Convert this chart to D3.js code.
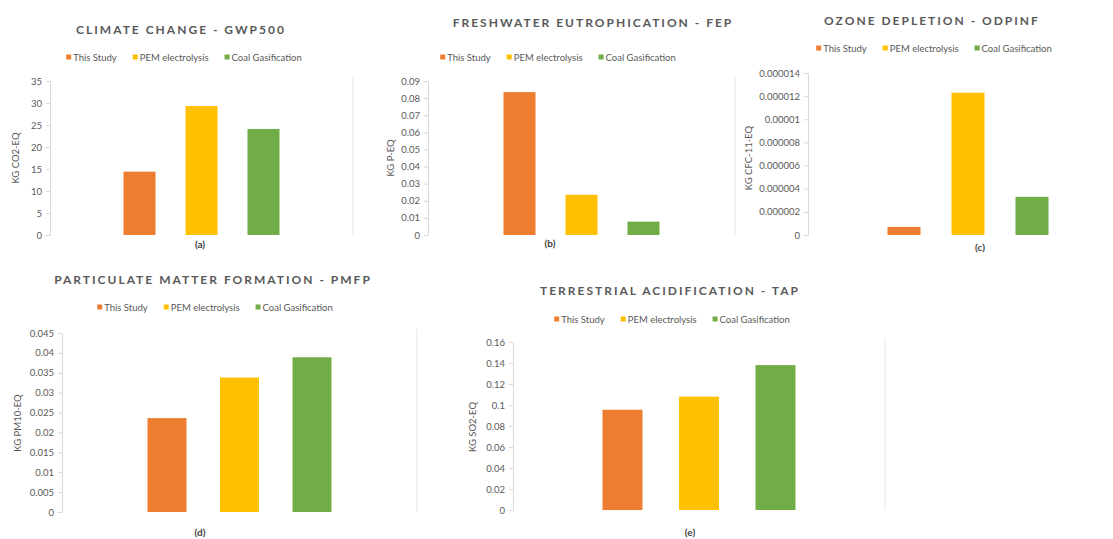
<!DOCTYPE html>
<html>
<head>
<meta charset="utf-8">
<script src="https://cdn.jsdelivr.net/npm/d3@7"></script>
<style>
  body { margin: 0; background: #fff; }
  svg { display: block; font-family: Lato, "Open Sans", sans-serif; }
</style>
</head>
<body>
<div id="chart"></div>
<script>
"use strict";

// series shared by all five panels
let seriesNames = ["This Study", "PEM electrolysis", "Coal Gasification"];
let seriesColors = ["#ED7D31", "#FFC000", "#70AD47"];

let titles = [
  "CLIMATE CHANGE - GWP500",
  "FRESHWATER EUTROPHICATION - FEP",
  "OZONE DEPLETION - ODPINF",
  "PARTICULATE MATTER FORMATION - PMFP",
  "TERRESTRIAL ACIDIFICATION - TAP"
];
let units = ["KG CO2-EQ", "KG P-EQ", "KG CFC-11-EQ", "KG PM10-EQ", "KG SO2-EQ"];
let captions = ["(a)", "(b)", "(c)", "(d)", "(e)"];

// values
let gwpValues = [14.4, 29.3, 24.1];
let fepValues = [0.0835, 0.0235, 0.0078];
let odpValues = [0.0000007, 0.0000123, 0.0000033];
let pmfpValues = [0.0236, 0.0338, 0.0389];
let tapValues = [0.0955, 0.108, 0.138];

let gwpTicks = [0, 5, 10, 15, 20, 25, 30, 35];
let fepTicks = [0, 0.01, 0.02, 0.03, 0.04, 0.05, 0.06, 0.07, 0.08, 0.09];
let odpTicks = [0, 0.000002, 0.000004, 0.000006, 0.000008, 0.00001, 0.000012, 0.000014];
let pmfpTicks = [0, 0.005, 0.01, 0.015, 0.02, 0.025, 0.03, 0.035, 0.04, 0.045];
let tapTicks = [0, 0.02, 0.04, 0.06, 0.08, 0.1, 0.12, 0.14, 0.16];

let panelValues = [gwpValues, fepValues, odpValues, pmfpValues, tapValues];
let panelTicks = [gwpTicks, fepTicks, odpTicks, pmfpTicks, tapTicks];

// layout of each panel (pixels)
let layout = [
  { axisX: 50,  y0: 235, y1: 81,  cx: 201.5, step: 62,   barW: 32, rightX: 353,
    titleX: 181, titleY: 29, legendX: 184, legendY: 57, capX: 200, capY: 244, unitX: 15, unitY: 158 },
  { axisX: 428, y0: 235, y1: 81,  cx: 581.5, step: 62,   barW: 32, rightX: 735,
    titleX: 593, titleY: 22, legendX: 558, legendY: 57, capX: 550, capY: 243, unitX: 390, unitY: 158 },
  { axisX: 808, y0: 235, y1: 73,  cx: 968,   step: 64,   barW: 33, rightX: null,
    titleX: 932, titleY: 20, legendX: 934, legendY: 48, capX: 980, capY: 247, unitX: 748, unitY: 158 },
  { axisX: 62,  y0: 512, y1: 333, cx: 239.5, step: 72.5, barW: 39, rightX: 417,
    titleX: 213, titleY: 279, legendX: 215, legendY: 307, capX: 200, capY: 532, unitX: 17, unitY: 423 },
  { axisX: 513, y0: 510, y1: 342, cx: 699,   step: 76.5, barW: 40, rightX: 885,
    titleX: 670, titleY: 290, legendX: 672, legendY: 319, capX: 690, capY: 532, unitX: 472, unitY: 427 }
];

let width = 1113, height = 539;
let textColor = "#595959";
let lineColor = "#d9d9d9";

let svg = d3.select("#chart").append("svg")
  .attr("width", width)
  .attr("height", height);

let fmt = function(v) { return String(+v.toFixed(7)); };

layout.forEach(function(L, p) {
  let ticks = panelTicks[p];
  let values = panelValues[p];
  let g = svg.append("g");

  let yScale = d3.scaleLinear()
    .domain([0, ticks[ticks.length - 1]])
    .range([L.y0, L.y1]);

  let xScale = d3.scaleBand()
    .domain(seriesNames)
    .range([L.cx - 1.5 * L.step, L.cx + 1.5 * L.step])
    .paddingInner(1 - L.barW / L.step)
    .paddingOuter((1 - L.barW / L.step) / 2);

  // title
  g.append("text")
    .attr("x", L.titleX).attr("y", L.titleY)
    .attr("text-anchor", "middle").attr("dominant-baseline", "central")
    .style("font-size", "12px").style("font-weight", "bold")
    .style("letter-spacing", "2px")
    .style("fill", textColor)
    .text(titles[p]);

  // legend
  let leg = g.append("g");
  let lx = 0;
  seriesNames.forEach(function(name, i) {
    leg.append("rect")
      .attr("x", lx).attr("y", -2.5).attr("width", 5).attr("height", 5)
      .style("fill", seriesColors[i]);
    let t = leg.append("text")
      .attr("x", lx + 7).attr("y", 0)
      .attr("dominant-baseline", "central")
      .style("font-size", "9.5px").style("fill", textColor)
      .text(name);
    lx += 7 + t.node().getComputedTextLength() + 16;
  });
  let legW = lx - 16;
  leg.attr("transform", "translate(" + (L.legendX - legW / 2) + "," + L.legendY + ")");

  // faint chart border line on the right
  if (L.rightX) {
    g.append("line")
      .attr("x1", L.rightX).attr("x2", L.rightX)
      .attr("y1", L.y1 - 4).attr("y2", L.y0)
      .style("stroke", "#e6e6e6");
  }

  // y axis
  let axis = g.append("g")
    .attr("transform", "translate(" + L.axisX + ",0)")
    .call(d3.axisLeft(yScale).tickValues(ticks).tickFormat(fmt).tickSize(4).tickPadding(4));
  axis.select(".domain").style("stroke", lineColor);
  axis.selectAll(".tick line").style("stroke", lineColor);
  axis.selectAll(".tick text")
    .style("font-size", "9.5px").style("fill", textColor)
    .style("font-family", "Lato, 'Open Sans', sans-serif");

  // bars
  g.selectAll("rect.bar").data(values)
    .enter().append("rect")
      .attr("class", "bar")
      .attr("x", function(d, i) { return xScale(seriesNames[i]); })
      .attr("width", xScale.bandwidth())
      .attr("y", function(d) { return yScale(d); })
      .attr("height", function(d) { return L.y0 - yScale(d); })
      .style("fill", function(d, i) { return seriesColors[i]; });

  // y axis title
  g.append("text")
    .attr("transform", "translate(" + L.unitX + "," + L.unitY + ") rotate(-90)")
    .attr("text-anchor", "middle").attr("dominant-baseline", "central")
    .style("font-size", "9.5px").style("fill", textColor)
    .text(units[p]);

  // caption
  g.append("text")
    .attr("x", L.capX).attr("y", L.capY)
    .attr("text-anchor", "middle").attr("dominant-baseline", "central")
    .style("font-size", "10px").style("font-weight", "bold").style("fill", "#404040")
    .text(captions[p]);
});
</script>
</body>
</html>
